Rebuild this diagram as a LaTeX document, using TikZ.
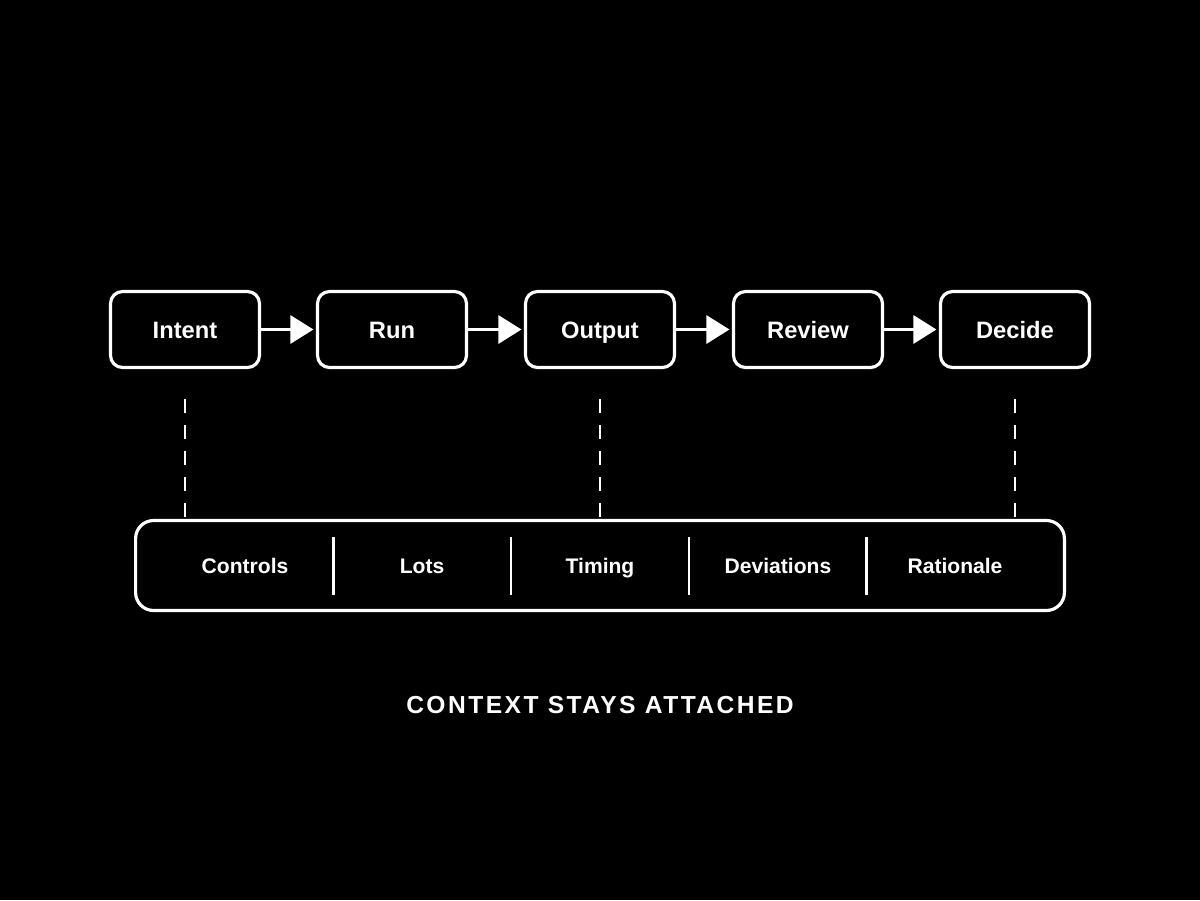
\documentclass[tikz,border=0pt]{standalone}
\usepackage{fontspec}
\setmainfont{Liberation Sans}
\newfontfamily\headfont{Liberation Sans}[LetterSpace=10]
\usetikzlibrary{arrows.meta,calc}

\begin{document}
\begin{tikzpicture}
[x=0.02cm,y=-0.02cm,line width=1.8pt,white,%
  stage/.style={shape=rectangle,draw,rounded corners=0.24cm,
    minimum width=2.98cm,minimum height=1.52cm,inner sep=0pt,
    text height=9.7pt,text depth=0pt,
    font=\fontsize{13.5}{16}\selectfont\bfseries},
  flow/.style={-{Triangle[length=0.46cm,width=0.56cm]},shorten >=0.05cm},
  link/.style={line width=1.6pt,dash pattern=on 0.28cm off 0.24cm},
  cell/.style={text height=8.6pt,text depth=0pt,inner sep=0pt,
    font=\fontsize{12}{14}\selectfont\bfseries},
  divider/.style={line width=1.5pt}]
\fill[black] (0,0) rectangle (1200,900);
\useasboundingbox (0,0) rectangle (1200,900);
% process row
\node[stage] (intent) at (185,329.5) {Intent};
\node[stage] (run)    at (392,329.5) {Run};
\node[stage] (output) at (600,329.5) {Output};
\node[stage] (review) at (808,329.5) {Review};
\node[stage] (decide) at (1015,329.5) {Decide};
\foreach \a/\b in {intent/run,run/output,output/review,review/decide}
  \draw[flow] (\a) -- (\b);
% context bar
\node[shape=rectangle,draw,rounded corners=0.36cm,minimum width=18.58cm,
  minimum height=1.8cm] (bar) at (600,565.5) {};
\node[cell] (controls)   at (245,566) {Controls};
\node[cell] (lots)       at (422,566) {Lots};
\node[cell] (timing)     at (600,566) {Timing};
\node[cell] (deviations) at (778,566) {Deviations};
\node[cell] (rationale)  at (955,566) {Rationale};
\foreach \a/\b in {controls/lots,lots/timing,timing/deviations,deviations/rationale}
  \draw[divider] ($(\a)!0.5!(\b)$) ++(0,-29) -- ++(0,58);
% taps down to the bar
\foreach \s in {intent,output,decide}{
  \coordinate (\s-tap) at ([yshift=-0.6cm]\s.south);
  \draw[link] (\s-tap) -- (\s-tap |- bar.north);
}
\node[font=\fontsize{14}{17}\selectfont\bfseries\headfont] (caption) at (600,705)
  {CONTEXT STAYS ATTACHED};
\end{tikzpicture}
\end{document}
